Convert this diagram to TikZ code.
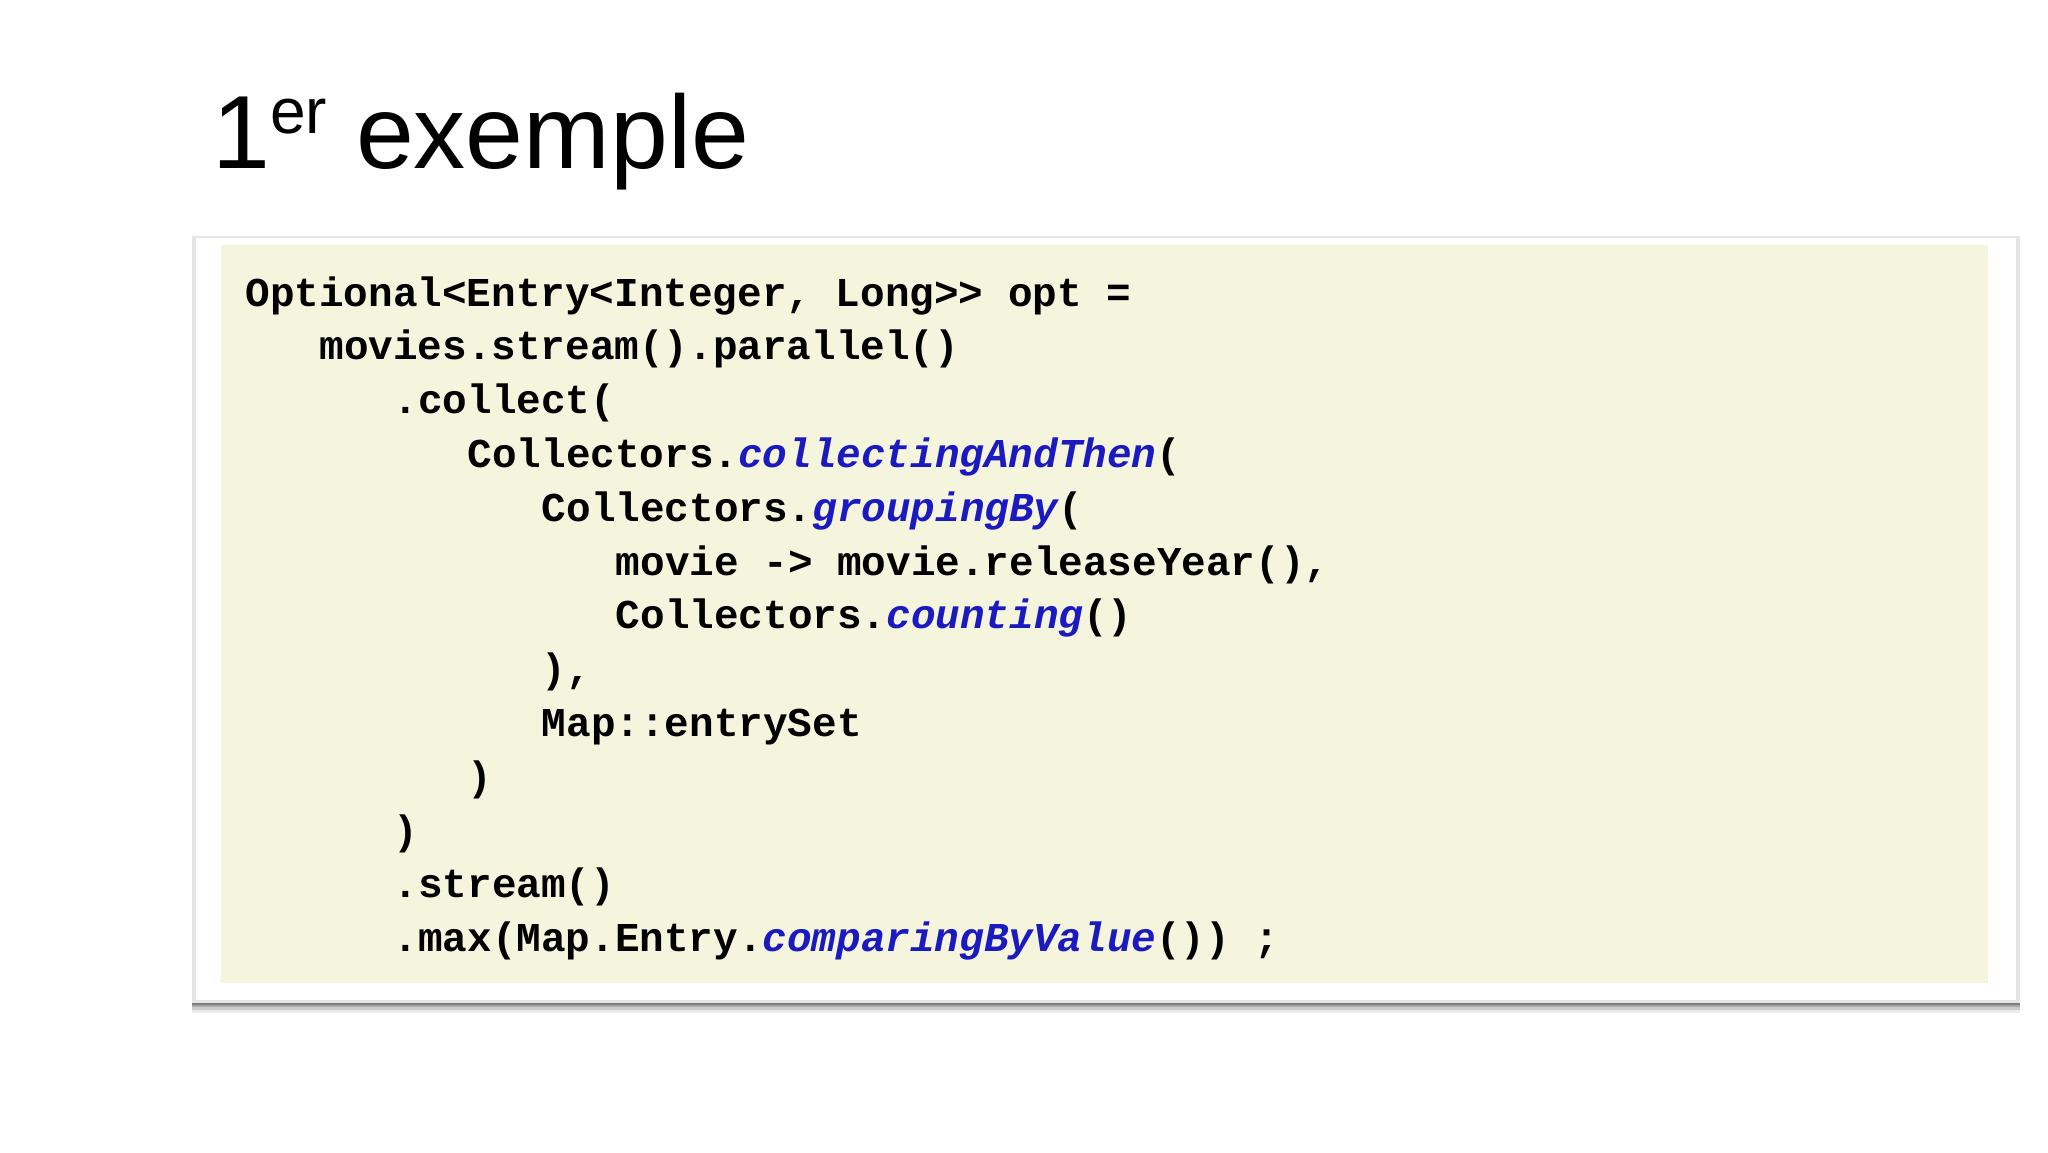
\documentclass[tikz,border=0pt]{standalone}
\usepackage{fontspec}
\setmainfont{Liberation Sans}
\newfontfamily\codefont{Liberation Mono}
\definecolor{beige}{HTML}{F5F4DC}
\definecolor{kw}{HTML}{1A1AC0}
\begin{document}
\begin{tikzpicture}[x=0.5pt,y=-0.5pt,
  codeline/.style={anchor=base west,inner sep=0pt,font=\codefont\bfseries\fontsize{20.5}{27}\selectfont},
  meth/.style={color=kw}]
\useasboundingbox (0,0) rectangle (2048,1152);
\fill[white] (0,0) rectangle (2048,1152);
\node[anchor=base west,inner sep=0pt,font=\fontsize{52}{56}\selectfont] (title) at (212,168) {1\raisebox{0.62ex}{\fontsize{32}{34}\selectfont er} exemple};
% shadow and frame
\foreach \o/\a in {10/0.08,7/0.12,4/0.18,2/0.25}{
  \fill[black,opacity=\a] (192,1003-\o) rectangle (2020,1003+\o);}
\fill[black!10] (192,236) rectangle (2020,1003);
\fill[white] (196,238) rectangle (2016,1000);
\fill[beige] (221,245) rectangle (1988,983);
\newcommand{\cw}{24.7}
\newcommand{\lh}{53.8}
\newcommand{\ital}[1]{{\color{kw}\itshape #1}}
\foreach \n/\ind/\txt in {
 0/0/{Optional<Entry<Integer, Long>{}> opt =},
 1/3/{movies.stream().parallel()},
 2/6/{.collect(},
 3/9/{Collectors.\ital{collectingAndThen}(},
 4/12/{Collectors.\ital{groupingBy}(},
 5/15/{movie -> movie.releaseYear(),},
 6/15/{Collectors.\ital{counting}()},
 7/12/{),},
 8/12/{Map::entrySet},
 9/9/{)},
 10/6/{)},
 11/6/{.stream()},
 12/6/{.max(Map.Entry.\ital{comparingByValue}()) ;}}{
  \node[codeline] (l\n) at ({245+\ind*\cw},{306+\n*\lh}) {\txt};
}
\end{tikzpicture}
\end{document}
